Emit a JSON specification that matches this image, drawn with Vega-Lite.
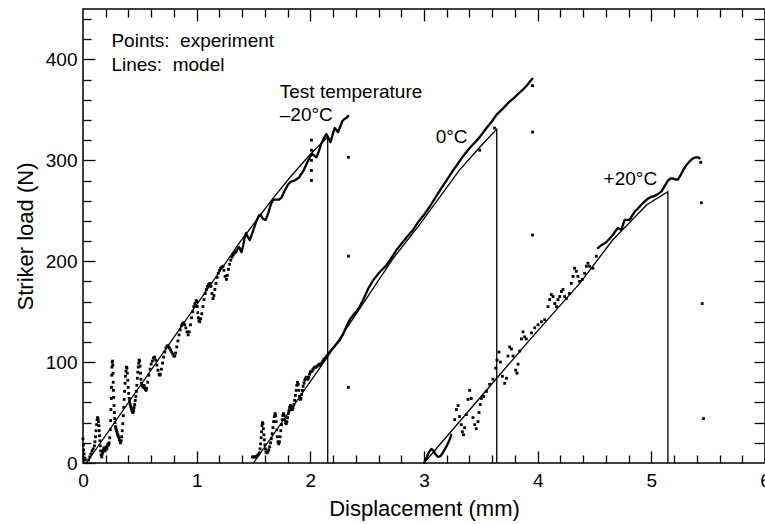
{
  "$schema": "https://vega.github.io/schema/vega-lite/v6.json",
  "width": 682,
  "height": 454,
  "autosize": {"type": "none"},
  "padding": {"left": 83, "top": 9, "right": 0, "bottom": 61},
  "background": "white",
  "config": {
    "view": {"stroke": "black", "strokeWidth": 1.5},
    "font": "Liberation Sans",
    "axis": {
      "domain": false,
      "grid": false,
      "tickColor": "black",
      "tickWidth": 1.3,
      "labelColor": "black",
      "labelFont": "Liberation Sans",
      "labelFontSize": 19,
      "labelFlush": false,
      "labelOverlap": false,
      "labelBound": false,
      "titleFont": "Liberation Sans",
      "titleFontSize": 22,
      "titleFontWeight": "normal",
      "titleColor": "black"
    }
  },
  "datasets": {
    "model": [
      {"temp": "-20", "disp": 0.03, "load": 0},
      {"temp": "-20", "disp": 1.26, "load": 199},
      {"temp": "-20", "disp": 1.38, "load": 219},
      {"temp": "-20", "disp": 1.67, "load": 262},
      {"temp": "-20", "disp": 1.82, "load": 283},
      {"temp": "-20", "disp": 2.0, "load": 306},
      {"temp": "-20", "disp": 2.153, "load": 323},
      {"temp": "-20", "disp": 2.153, "load": 0},
      {"temp": "0", "disp": 1.5, "load": 0},
      {"temp": "0", "disp": 2.15, "load": 105},
      {"temp": "0", "disp": 2.73, "load": 203},
      {"temp": "0", "disp": 2.96, "load": 236},
      {"temp": "0", "disp": 3.31, "load": 290},
      {"temp": "0", "disp": 3.49, "load": 313},
      {"temp": "0", "disp": 3.64, "load": 331},
      {"temp": "0", "disp": 3.64, "load": 0},
      {"temp": "+20", "disp": 3.0, "load": 0},
      {"temp": "+20", "disp": 3.64, "load": 84},
      {"temp": "+20", "disp": 3.93, "load": 122},
      {"temp": "+20", "disp": 4.37, "load": 178},
      {"temp": "+20", "disp": 4.66, "load": 221},
      {"temp": "+20", "disp": 4.96, "load": 256},
      {"temp": "+20", "disp": 5.146, "load": 269},
      {"temp": "+20", "disp": 5.146, "load": 0}
    ],
    "curves": [
      {"seg": "-20", "disp": 1.36, "load": 212}, {"seg": "-20", "disp": 1.375, "load": 214}, {"seg": "-20", "disp": 1.385, "load": 211},
      {"seg": "-20", "disp": 1.395, "load": 209}, {"seg": "-20", "disp": 1.41, "load": 216}, {"seg": "-20", "disp": 1.425, "load": 225},
      {"seg": "-20", "disp": 1.435, "load": 228}, {"seg": "-20", "disp": 1.45, "load": 224}, {"seg": "-20", "disp": 1.467, "load": 221},
      {"seg": "-20", "disp": 1.49, "load": 228}, {"seg": "-20", "disp": 1.52, "load": 238}, {"seg": "-20", "disp": 1.545, "load": 245},
      {"seg": "-20", "disp": 1.56, "load": 246}, {"seg": "-20", "disp": 1.585, "load": 242}, {"seg": "-20", "disp": 1.608, "load": 241},
      {"seg": "-20", "disp": 1.63, "load": 248}, {"seg": "-20", "disp": 1.655, "load": 257}, {"seg": "-20", "disp": 1.672, "load": 261},
      {"seg": "-20", "disp": 1.7, "load": 261}, {"seg": "-20", "disp": 1.725, "load": 261}, {"seg": "-20", "disp": 1.746, "load": 263},
      {"seg": "-20", "disp": 1.775, "load": 270}, {"seg": "-20", "disp": 1.804, "load": 276}, {"seg": "-20", "disp": 1.83, "load": 279},
      {"seg": "-20", "disp": 1.863, "load": 280}, {"seg": "-20", "disp": 1.9, "load": 283}, {"seg": "-20", "disp": 1.936, "load": 289},
      {"seg": "-20", "disp": 1.97, "load": 297}, {"seg": "-20", "disp": 2.0, "load": 304}, {"seg": "-20", "disp": 2.02, "load": 306},
      {"seg": "-20", "disp": 2.054, "load": 303}, {"seg": "-20", "disp": 2.075, "load": 309}, {"seg": "-20", "disp": 2.098, "load": 317},
      {"seg": "-20", "disp": 2.12, "load": 322}, {"seg": "-20", "disp": 2.141, "load": 326}, {"seg": "-20", "disp": 2.16, "load": 322},
      {"seg": "-20", "disp": 2.177, "load": 318}, {"seg": "-20", "disp": 2.195, "load": 325}, {"seg": "-20", "disp": 2.214, "load": 332},
      {"seg": "-20", "disp": 2.23, "load": 330}, {"seg": "-20", "disp": 2.244, "load": 328}, {"seg": "-20", "disp": 2.265, "load": 334},
      {"seg": "-20", "disp": 2.282, "load": 339}, {"seg": "-20", "disp": 2.3, "load": 341}, {"seg": "-20", "disp": 2.317, "load": 342},
      {"seg": "-20", "disp": 2.332, "load": 344},
      {"seg": "0", "disp": 2.13, "load": 104}, {"seg": "0", "disp": 2.141, "load": 106}, {"seg": "0", "disp": 2.17, "load": 110},
      {"seg": "0", "disp": 2.2, "load": 114}, {"seg": "0", "disp": 2.23, "load": 118}, {"seg": "0", "disp": 2.259, "load": 122},
      {"seg": "0", "disp": 2.29, "load": 128}, {"seg": "0", "disp": 2.32, "load": 136}, {"seg": "0", "disp": 2.347, "load": 142},
      {"seg": "0", "disp": 2.38, "load": 147}, {"seg": "0", "disp": 2.41, "load": 151}, {"seg": "0", "disp": 2.435, "load": 155},
      {"seg": "0", "disp": 2.47, "load": 163}, {"seg": "0", "disp": 2.51, "load": 173}, {"seg": "0", "disp": 2.552, "load": 181},
      {"seg": "0", "disp": 2.6, "load": 188}, {"seg": "0", "disp": 2.635, "load": 192}, {"seg": "0", "disp": 2.669, "load": 196},
      {"seg": "0", "disp": 2.7, "load": 201}, {"seg": "0", "disp": 2.73, "load": 206}, {"seg": "0", "disp": 2.757, "load": 211},
      {"seg": "0", "disp": 2.8, "load": 217}, {"seg": "0", "disp": 2.85, "load": 224}, {"seg": "0", "disp": 2.903, "load": 231},
      {"seg": "0", "disp": 2.95, "load": 239}, {"seg": "0", "disp": 3.0, "load": 246}, {"seg": "0", "disp": 3.05, "load": 254},
      {"seg": "0", "disp": 3.1, "load": 263}, {"seg": "0", "disp": 3.15, "load": 272}, {"seg": "0", "disp": 3.197, "load": 280},
      {"seg": "0", "disp": 3.25, "load": 289}, {"seg": "0", "disp": 3.3, "load": 297}, {"seg": "0", "disp": 3.343, "load": 304},
      {"seg": "0", "disp": 3.4, "load": 312}, {"seg": "0", "disp": 3.45, "load": 318}, {"seg": "0", "disp": 3.49, "load": 323},
      {"seg": "0", "disp": 3.55, "load": 332}, {"seg": "0", "disp": 3.6, "load": 339}, {"seg": "0", "disp": 3.637, "load": 345},
      {"seg": "0", "disp": 3.7, "load": 352}, {"seg": "0", "disp": 3.75, "load": 358}, {"seg": "0", "disp": 3.783, "load": 361},
      {"seg": "0", "disp": 3.83, "load": 366}, {"seg": "0", "disp": 3.87, "load": 370}, {"seg": "0", "disp": 3.91, "load": 375},
      {"seg": "0", "disp": 3.953, "load": 381},
      {"seg": "+20 start", "disp": 3.0, "load": 0}, {"seg": "+20 start", "disp": 3.02, "load": 5}, {"seg": "+20 start", "disp": 3.045, "load": 11},
      {"seg": "+20 start", "disp": 3.065, "load": 14}, {"seg": "+20 start", "disp": 3.085, "load": 12}, {"seg": "+20 start", "disp": 3.105, "load": 8},
      {"seg": "+20 start", "disp": 3.125, "load": 6}, {"seg": "+20 start", "disp": 3.145, "load": 7}, {"seg": "+20 start", "disp": 3.165, "load": 10},
      {"seg": "+20 start", "disp": 3.185, "load": 14}, {"seg": "+20 start", "disp": 3.205, "load": 18}, {"seg": "+20 start", "disp": 3.225, "load": 23},
      {"seg": "+20 start", "disp": 3.24, "load": 28},
      {"seg": "+20", "disp": 4.53, "load": 213}, {"seg": "+20", "disp": 4.56, "load": 216}, {"seg": "+20", "disp": 4.58, "load": 217},
      {"seg": "+20", "disp": 4.604, "load": 219}, {"seg": "+20", "disp": 4.63, "load": 222}, {"seg": "+20", "disp": 4.662, "load": 226},
      {"seg": "+20", "disp": 4.685, "load": 230}, {"seg": "+20", "disp": 4.706, "load": 233}, {"seg": "+20", "disp": 4.72, "load": 232},
      {"seg": "+20", "disp": 4.736, "load": 231}, {"seg": "+20", "disp": 4.75, "load": 236}, {"seg": "+20", "disp": 4.765, "load": 241},
      {"seg": "+20", "disp": 4.785, "load": 241}, {"seg": "+20", "disp": 4.809, "load": 241}, {"seg": "+20", "disp": 4.83, "load": 245},
      {"seg": "+20", "disp": 4.853, "load": 249}, {"seg": "+20", "disp": 4.88, "load": 252}, {"seg": "+20", "disp": 4.912, "load": 256},
      {"seg": "+20", "disp": 4.94, "load": 259}, {"seg": "+20", "disp": 4.97, "load": 262}, {"seg": "+20", "disp": 5.0, "load": 264},
      {"seg": "+20", "disp": 5.014, "load": 264}, {"seg": "+20", "disp": 5.05, "load": 266}, {"seg": "+20", "disp": 5.088, "load": 269},
      {"seg": "+20", "disp": 5.12, "load": 275}, {"seg": "+20", "disp": 5.146, "load": 280}, {"seg": "+20", "disp": 5.17, "load": 282},
      {"seg": "+20", "disp": 5.19, "load": 282}, {"seg": "+20", "disp": 5.21, "load": 281}, {"seg": "+20", "disp": 5.234, "load": 281},
      {"seg": "+20", "disp": 5.256, "load": 285}, {"seg": "+20", "disp": 5.278, "load": 290}, {"seg": "+20", "disp": 5.3, "load": 294},
      {"seg": "+20", "disp": 5.322, "load": 297}, {"seg": "+20", "disp": 5.345, "load": 300}, {"seg": "+20", "disp": 5.366, "load": 302},
      {"seg": "+20", "disp": 5.39, "load": 303}, {"seg": "+20", "disp": 5.41, "load": 303}, {"seg": "+20", "disp": 5.425, "load": 302}
    ],
    "dots": [
      {"temp": "-20", "disp": 0, "load": 24}, {"temp": "-20", "disp": 0.003, "load": 18}, {"temp": "-20", "disp": 0.006, "load": 13},
      {"temp": "-20", "disp": 0.01, "load": 9}, {"temp": "-20", "disp": 0.015, "load": 5}, {"temp": "-20", "disp": 0.02, "load": 3},
      {"temp": "-20", "disp": 0.05, "load": 3}, {"temp": "-20", "disp": 0.06, "load": 6}, {"temp": "-20", "disp": 0.07, "load": 9},
      {"temp": "-20", "disp": 0.08, "load": 12}, {"temp": "-20", "disp": 0.09, "load": 14}, {"temp": "-20", "disp": 0.1, "load": 17},
      {"temp": "-20", "disp": 0.105, "load": 21}, {"temp": "-20", "disp": 0.11, "load": 26}, {"temp": "-20", "disp": 0.115, "load": 32},
      {"temp": "-20", "disp": 0.12, "load": 38}, {"temp": "-20", "disp": 0.124, "load": 43}, {"temp": "-20", "disp": 0.128, "load": 45},
      {"temp": "-20", "disp": 0.132, "load": 44}, {"temp": "-20", "disp": 0.136, "load": 41}, {"temp": "-20", "disp": 0.14, "load": 37},
      {"temp": "-20", "disp": 0.143, "load": 32}, {"temp": "-20", "disp": 0.146, "load": 27}, {"temp": "-20", "disp": 0.149, "load": 22},
      {"temp": "-20", "disp": 0.152, "load": 17}, {"temp": "-20", "disp": 0.156, "load": 12}, {"temp": "-20", "disp": 0.16, "load": 8},
      {"temp": "-20", "disp": 0.165, "load": 6}, {"temp": "-20", "disp": 0.17, "load": 9}, {"temp": "-20", "disp": 0.175, "load": 11},
      {"temp": "-20", "disp": 0.18, "load": 13}, {"temp": "-20", "disp": 0.185, "load": 15}, {"temp": "-20", "disp": 0.19, "load": 13},
      {"temp": "-20", "disp": 0.195, "load": 12}, {"temp": "-20", "disp": 0.2, "load": 14}, {"temp": "-20", "disp": 0.205, "load": 16},
      {"temp": "-20", "disp": 0.21, "load": 14}, {"temp": "-20", "disp": 0.215, "load": 17}, {"temp": "-20", "disp": 0.22, "load": 19},
      {"temp": "-20", "disp": 0.225, "load": 18}, {"temp": "-20", "disp": 0.23, "load": 20}, {"temp": "-20", "disp": 0.235, "load": 25},
      {"temp": "-20", "disp": 0.24, "load": 33}, {"temp": "-20", "disp": 0.243, "load": 42}, {"temp": "-20", "disp": 0.246, "load": 53},
      {"temp": "-20", "disp": 0.249, "load": 64}, {"temp": "-20", "disp": 0.251, "load": 75}, {"temp": "-20", "disp": 0.253, "load": 87},
      {"temp": "-20", "disp": 0.255, "load": 95}, {"temp": "-20", "disp": 0.257, "load": 100}, {"temp": "-20", "disp": 0.26, "load": 101},
      {"temp": "-20", "disp": 0.262, "load": 97}, {"temp": "-20", "disp": 0.264, "load": 89}, {"temp": "-20", "disp": 0.266, "load": 80},
      {"temp": "-20", "disp": 0.268, "load": 72}, {"temp": "-20", "disp": 0.27, "load": 65}, {"temp": "-20", "disp": 0.273, "load": 57},
      {"temp": "-20", "disp": 0.276, "load": 50}, {"temp": "-20", "disp": 0.279, "load": 44}, {"temp": "-20", "disp": 0.282, "load": 40},
      {"temp": "-20", "disp": 0.286, "load": 36}, {"temp": "-20", "disp": 0.29, "load": 34}, {"temp": "-20", "disp": 0.295, "load": 32},
      {"temp": "-20", "disp": 0.3, "load": 30}, {"temp": "-20", "disp": 0.305, "load": 28}, {"temp": "-20", "disp": 0.31, "load": 27},
      {"temp": "-20", "disp": 0.315, "load": 25}, {"temp": "-20", "disp": 0.32, "load": 23}, {"temp": "-20", "disp": 0.325, "load": 22},
      {"temp": "-20", "disp": 0.33, "load": 20}, {"temp": "-20", "disp": 0.335, "load": 22}, {"temp": "-20", "disp": 0.34, "load": 26},
      {"temp": "-20", "disp": 0.345, "load": 32}, {"temp": "-20", "disp": 0.35, "load": 39}, {"temp": "-20", "disp": 0.354, "load": 47},
      {"temp": "-20", "disp": 0.358, "load": 55}, {"temp": "-20", "disp": 0.362, "load": 63}, {"temp": "-20", "disp": 0.366, "load": 71},
      {"temp": "-20", "disp": 0.37, "load": 79}, {"temp": "-20", "disp": 0.374, "load": 86}, {"temp": "-20", "disp": 0.378, "load": 91},
      {"temp": "-20", "disp": 0.382, "load": 95}, {"temp": "-20", "disp": 0.386, "load": 94}, {"temp": "-20", "disp": 0.39, "load": 89},
      {"temp": "-20", "disp": 0.394, "load": 82}, {"temp": "-20", "disp": 0.398, "load": 75}, {"temp": "-20", "disp": 0.402, "load": 69},
      {"temp": "-20", "disp": 0.406, "load": 64}, {"temp": "-20", "disp": 0.41, "load": 61}, {"temp": "-20", "disp": 0.415, "load": 58},
      {"temp": "-20", "disp": 0.42, "load": 56}, {"temp": "-20", "disp": 0.425, "load": 54}, {"temp": "-20", "disp": 0.43, "load": 52},
      {"temp": "-20", "disp": 0.435, "load": 51}, {"temp": "-20", "disp": 0.44, "load": 50}, {"temp": "-20", "disp": 0.445, "load": 52},
      {"temp": "-20", "disp": 0.45, "load": 55}, {"temp": "-20", "disp": 0.455, "load": 58}, {"temp": "-20", "disp": 0.46, "load": 62},
      {"temp": "-20", "disp": 0.465, "load": 66}, {"temp": "-20", "disp": 0.47, "load": 71}, {"temp": "-20", "disp": 0.474, "load": 77},
      {"temp": "-20", "disp": 0.478, "load": 84}, {"temp": "-20", "disp": 0.482, "load": 90}, {"temp": "-20", "disp": 0.486, "load": 95},
      {"temp": "-20", "disp": 0.49, "load": 99}, {"temp": "-20", "disp": 0.494, "load": 102}, {"temp": "-20", "disp": 0.498, "load": 101},
      {"temp": "-20", "disp": 0.502, "load": 96}, {"temp": "-20", "disp": 0.506, "load": 89}, {"temp": "-20", "disp": 0.51, "load": 83},
      {"temp": "-20", "disp": 0.515, "load": 79}, {"temp": "-20", "disp": 0.52, "load": 77}, {"temp": "-20", "disp": 0.525, "load": 76},
      {"temp": "-20", "disp": 0.53, "load": 75}, {"temp": "-20", "disp": 0.535, "load": 77}, {"temp": "-20", "disp": 0.54, "load": 76},
      {"temp": "-20", "disp": 0.545, "load": 74}, {"temp": "-20", "disp": 0.55, "load": 73}, {"temp": "-20", "disp": 0.555, "load": 72},
      {"temp": "-20", "disp": 0.56, "load": 74}, {"temp": "-20", "disp": 0.57, "load": 80}, {"temp": "-20", "disp": 0.58, "load": 87},
      {"temp": "-20", "disp": 0.59, "load": 93}, {"temp": "-20", "disp": 0.6, "load": 98}, {"temp": "-20", "disp": 0.61, "load": 101},
      {"temp": "-20", "disp": 0.62, "load": 104}, {"temp": "-20", "disp": 0.63, "load": 105}, {"temp": "-20", "disp": 0.64, "load": 102},
      {"temp": "-20", "disp": 0.65, "load": 97}, {"temp": "-20", "disp": 0.66, "load": 92}, {"temp": "-20", "disp": 0.67, "load": 88},
      {"temp": "-20", "disp": 0.675, "load": 87}, {"temp": "-20", "disp": 0.68, "load": 88}, {"temp": "-20", "disp": 0.69, "load": 93},
      {"temp": "-20", "disp": 0.7, "load": 99}, {"temp": "-20", "disp": 0.71, "load": 105}, {"temp": "-20", "disp": 0.72, "load": 110},
      {"temp": "-20", "disp": 0.73, "load": 114}, {"temp": "-20", "disp": 0.74, "load": 116}, {"temp": "-20", "disp": 0.75, "load": 116},
      {"temp": "-20", "disp": 0.76, "load": 114}, {"temp": "-20", "disp": 0.77, "load": 112}, {"temp": "-20", "disp": 0.78, "load": 110},
      {"temp": "-20", "disp": 0.79, "load": 108}, {"temp": "-20", "disp": 0.8, "load": 106}, {"temp": "-20", "disp": 0.807, "load": 106},
      {"temp": "-20", "disp": 0.815, "load": 109}, {"temp": "-20", "disp": 0.825, "load": 115}, {"temp": "-20", "disp": 0.835, "load": 121},
      {"temp": "-20", "disp": 0.845, "load": 127}, {"temp": "-20", "disp": 0.855, "load": 132}, {"temp": "-20", "disp": 0.865, "load": 136},
      {"temp": "-20", "disp": 0.875, "load": 138}, {"temp": "-20", "disp": 0.885, "load": 139}, {"temp": "-20", "disp": 0.895, "load": 137},
      {"temp": "-20", "disp": 0.905, "load": 134}, {"temp": "-20", "disp": 0.915, "load": 130}, {"temp": "-20", "disp": 0.925, "load": 127},
      {"temp": "-20", "disp": 0.935, "load": 130}, {"temp": "-20", "disp": 0.945, "load": 137}, {"temp": "-20", "disp": 0.955, "load": 144},
      {"temp": "-20", "disp": 0.965, "load": 150}, {"temp": "-20", "disp": 0.975, "load": 155}, {"temp": "-20", "disp": 0.985, "load": 158},
      {"temp": "-20", "disp": 0.995, "load": 161}, {"temp": "-20", "disp": 1.0, "load": 160}, {"temp": "-20", "disp": 1.005, "load": 155},
      {"temp": "-20", "disp": 1.01, "load": 149}, {"temp": "-20", "disp": 1.015, "load": 144}, {"temp": "-20", "disp": 1.02, "load": 141},
      {"temp": "-20", "disp": 1.027, "load": 140}, {"temp": "-20", "disp": 1.035, "load": 143}, {"temp": "-20", "disp": 1.045, "load": 148},
      {"temp": "-20", "disp": 1.055, "load": 155}, {"temp": "-20", "disp": 1.065, "load": 162}, {"temp": "-20", "disp": 1.075, "load": 168},
      {"temp": "-20", "disp": 1.085, "load": 172}, {"temp": "-20", "disp": 1.095, "load": 175}, {"temp": "-20", "disp": 1.105, "load": 177},
      {"temp": "-20", "disp": 1.115, "load": 178}, {"temp": "-20", "disp": 1.125, "load": 175}, {"temp": "-20", "disp": 1.135, "load": 168},
      {"temp": "-20", "disp": 1.144, "load": 163}, {"temp": "-20", "disp": 1.152, "load": 166}, {"temp": "-20", "disp": 1.16, "load": 172},
      {"temp": "-20", "disp": 1.17, "load": 178}, {"temp": "-20", "disp": 1.18, "load": 184}, {"temp": "-20", "disp": 1.19, "load": 188},
      {"temp": "-20", "disp": 1.2, "load": 191}, {"temp": "-20", "disp": 1.21, "load": 193}, {"temp": "-20", "disp": 1.22, "load": 194},
      {"temp": "-20", "disp": 1.232, "load": 195}, {"temp": "-20", "disp": 1.24, "load": 191}, {"temp": "-20", "disp": 1.25, "load": 185},
      {"temp": "-20", "disp": 1.262, "load": 182}, {"temp": "-20", "disp": 1.27, "load": 186}, {"temp": "-20", "disp": 1.28, "load": 192},
      {"temp": "-20", "disp": 1.29, "load": 197}, {"temp": "-20", "disp": 1.3, "load": 201}, {"temp": "-20", "disp": 1.31, "load": 204},
      {"temp": "-20", "disp": 1.32, "load": 206}, {"temp": "-20", "disp": 1.33, "load": 208}, {"temp": "-20", "disp": 1.34, "load": 209},
      {"temp": "-20", "disp": 1.35, "load": 210},
      {"temp": "-20", "disp": 2.01, "load": 320}, {"temp": "-20", "disp": 2.01, "load": 310}, {"temp": "-20", "disp": 2.01, "load": 300},
      {"temp": "-20", "disp": 2.01, "load": 290}, {"temp": "-20", "disp": 2.01, "load": 280},
      {"temp": "-20", "disp": 2.335, "load": 303}, {"temp": "-20", "disp": 2.335, "load": 205}, {"temp": "-20", "disp": 2.335, "load": 75},
      {"temp": "0", "disp": 1.49, "load": 6}, {"temp": "0", "disp": 1.5, "load": 6}, {"temp": "0", "disp": 1.51, "load": 6},
      {"temp": "0", "disp": 1.52, "load": 6}, {"temp": "0", "disp": 1.53, "load": 7}, {"temp": "0", "disp": 1.54, "load": 8},
      {"temp": "0", "disp": 1.55, "load": 10}, {"temp": "0", "disp": 1.558, "load": 14}, {"temp": "0", "disp": 1.563, "load": 19},
      {"temp": "0", "disp": 1.567, "load": 25}, {"temp": "0", "disp": 1.571, "load": 31}, {"temp": "0", "disp": 1.575, "load": 37},
      {"temp": "0", "disp": 1.579, "load": 40}, {"temp": "0", "disp": 1.583, "load": 39}, {"temp": "0", "disp": 1.587, "load": 34},
      {"temp": "0", "disp": 1.591, "load": 28}, {"temp": "0", "disp": 1.595, "load": 23}, {"temp": "0", "disp": 1.6, "load": 18},
      {"temp": "0", "disp": 1.605, "load": 14}, {"temp": "0", "disp": 1.61, "load": 11}, {"temp": "0", "disp": 1.618, "load": 10},
      {"temp": "0", "disp": 1.626, "load": 11}, {"temp": "0", "disp": 1.634, "load": 13}, {"temp": "0", "disp": 1.642, "load": 16},
      {"temp": "0", "disp": 1.65, "load": 20}, {"temp": "0", "disp": 1.657, "load": 24}, {"temp": "0", "disp": 1.664, "load": 29},
      {"temp": "0", "disp": 1.671, "load": 35}, {"temp": "0", "disp": 1.677, "load": 41}, {"temp": "0", "disp": 1.683, "load": 46},
      {"temp": "0", "disp": 1.689, "load": 49}, {"temp": "0", "disp": 1.695, "load": 47}, {"temp": "0", "disp": 1.7, "load": 41},
      {"temp": "0", "disp": 1.705, "load": 33}, {"temp": "0", "disp": 1.71, "load": 26}, {"temp": "0", "disp": 1.716, "load": 21},
      {"temp": "0", "disp": 1.722, "load": 19}, {"temp": "0", "disp": 1.728, "load": 21}, {"temp": "0", "disp": 1.734, "load": 26},
      {"temp": "0", "disp": 1.74, "load": 32}, {"temp": "0", "disp": 1.746, "load": 38}, {"temp": "0", "disp": 1.752, "load": 43},
      {"temp": "0", "disp": 1.758, "load": 47}, {"temp": "0", "disp": 1.764, "load": 49}, {"temp": "0", "disp": 1.77, "load": 47},
      {"temp": "0", "disp": 1.776, "load": 43}, {"temp": "0", "disp": 1.782, "load": 40}, {"temp": "0", "disp": 1.788, "load": 39},
      {"temp": "0", "disp": 1.794, "load": 41}, {"temp": "0", "disp": 1.8, "load": 45}, {"temp": "0", "disp": 1.806, "load": 49},
      {"temp": "0", "disp": 1.812, "load": 52}, {"temp": "0", "disp": 1.818, "load": 55}, {"temp": "0", "disp": 1.824, "load": 57},
      {"temp": "0", "disp": 1.83, "load": 56}, {"temp": "0", "disp": 1.836, "load": 54}, {"temp": "0", "disp": 1.842, "load": 53},
      {"temp": "0", "disp": 1.848, "load": 55}, {"temp": "0", "disp": 1.855, "load": 58}, {"temp": "0", "disp": 1.862, "load": 62},
      {"temp": "0", "disp": 1.869, "load": 67}, {"temp": "0", "disp": 1.875, "load": 72}, {"temp": "0", "disp": 1.881, "load": 77},
      {"temp": "0", "disp": 1.887, "load": 80}, {"temp": "0", "disp": 1.893, "load": 78}, {"temp": "0", "disp": 1.899, "load": 72},
      {"temp": "0", "disp": 1.905, "load": 66}, {"temp": "0", "disp": 1.911, "load": 63}, {"temp": "0", "disp": 1.917, "load": 64},
      {"temp": "0", "disp": 1.923, "load": 68}, {"temp": "0", "disp": 1.93, "load": 72}, {"temp": "0", "disp": 1.937, "load": 76},
      {"temp": "0", "disp": 1.944, "load": 79}, {"temp": "0", "disp": 1.951, "load": 82}, {"temp": "0", "disp": 1.958, "load": 84},
      {"temp": "0", "disp": 1.965, "load": 85}, {"temp": "0", "disp": 1.972, "load": 84}, {"temp": "0", "disp": 1.979, "load": 83},
      {"temp": "0", "disp": 1.986, "load": 85}, {"temp": "0", "disp": 1.993, "load": 88}, {"temp": "0", "disp": 2.0, "load": 90},
      {"temp": "0", "disp": 2.008, "load": 91}, {"temp": "0", "disp": 2.016, "load": 91}, {"temp": "0", "disp": 2.024, "load": 93},
      {"temp": "0", "disp": 2.032, "load": 94}, {"temp": "0", "disp": 2.04, "load": 95}, {"temp": "0", "disp": 2.05, "load": 95},
      {"temp": "0", "disp": 2.06, "load": 96}, {"temp": "0", "disp": 2.07, "load": 97}, {"temp": "0", "disp": 2.08, "load": 98},
      {"temp": "0", "disp": 2.09, "load": 97}, {"temp": "0", "disp": 2.1, "load": 99}, {"temp": "0", "disp": 2.11, "load": 101},
      {"temp": "0", "disp": 2.12, "load": 103},
      {"temp": "0", "disp": 3.49, "load": 310}, {"temp": "0", "disp": 3.62, "load": 332},
      {"temp": "0", "disp": 3.955, "load": 374}, {"temp": "0", "disp": 3.955, "load": 328}, {"temp": "0", "disp": 3.955, "load": 226},
      {"temp": "+20", "disp": 3.27, "load": 43}, {"temp": "+20", "disp": 3.285, "load": 53}, {"temp": "+20", "disp": 3.3, "load": 57},
      {"temp": "+20", "disp": 3.313, "load": 46}, {"temp": "+20", "disp": 3.328, "load": 38}, {"temp": "+20", "disp": 3.337, "load": 31},
      {"temp": "+20", "disp": 3.348, "load": 28}, {"temp": "+20", "disp": 3.357, "load": 35}, {"temp": "+20", "disp": 3.372, "load": 48},
      {"temp": "+20", "disp": 3.387, "load": 63}, {"temp": "+20", "disp": 3.402, "load": 72}, {"temp": "+20", "disp": 3.416, "load": 64},
      {"temp": "+20", "disp": 3.431, "load": 45}, {"temp": "+20", "disp": 3.446, "load": 38}, {"temp": "+20", "disp": 3.46, "load": 34},
      {"temp": "+20", "disp": 3.475, "load": 41}, {"temp": "+20", "disp": 3.484, "load": 50}, {"temp": "+20", "disp": 3.495, "load": 58},
      {"temp": "+20", "disp": 3.505, "load": 64}, {"temp": "+20", "disp": 3.525, "load": 66}, {"temp": "+20", "disp": 3.549, "load": 71},
      {"temp": "+20", "disp": 3.578, "load": 78}, {"temp": "+20", "disp": 3.607, "load": 83}, {"temp": "+20", "disp": 3.631, "load": 94},
      {"temp": "+20", "disp": 3.642, "load": 102}, {"temp": "+20", "disp": 3.66, "load": 110}, {"temp": "+20", "disp": 3.672, "load": 100},
      {"temp": "+20", "disp": 3.69, "load": 86}, {"temp": "+20", "disp": 3.71, "load": 79}, {"temp": "+20", "disp": 3.725, "load": 84},
      {"temp": "+20", "disp": 3.739, "load": 106}, {"temp": "+20", "disp": 3.754, "load": 115}, {"temp": "+20", "disp": 3.769, "load": 113},
      {"temp": "+20", "disp": 3.783, "load": 106}, {"temp": "+20", "disp": 3.807, "load": 92}, {"temp": "+20", "disp": 3.818, "load": 89},
      {"temp": "+20", "disp": 3.827, "load": 98}, {"temp": "+20", "disp": 3.842, "load": 111}, {"temp": "+20", "disp": 3.857, "load": 123},
      {"temp": "+20", "disp": 3.871, "load": 130}, {"temp": "+20", "disp": 3.885, "load": 125}, {"temp": "+20", "disp": 3.9, "load": 123},
      {"temp": "+20", "disp": 3.945, "load": 129}, {"temp": "+20", "disp": 3.974, "load": 134}, {"temp": "+20", "disp": 4.003, "load": 137},
      {"temp": "+20", "disp": 4.033, "load": 140}, {"temp": "+20", "disp": 4.062, "load": 142}, {"temp": "+20", "disp": 4.091, "load": 155},
      {"temp": "+20", "disp": 4.106, "load": 162}, {"temp": "+20", "disp": 4.12, "load": 167}, {"temp": "+20", "disp": 4.135, "load": 165},
      {"temp": "+20", "disp": 4.15, "load": 158}, {"temp": "+20", "disp": 4.165, "load": 155}, {"temp": "+20", "disp": 4.179, "load": 162},
      {"temp": "+20", "disp": 4.194, "load": 165}, {"temp": "+20", "disp": 4.209, "load": 170}, {"temp": "+20", "disp": 4.223, "load": 172},
      {"temp": "+20", "disp": 4.237, "load": 165}, {"temp": "+20", "disp": 4.252, "load": 163}, {"temp": "+20", "disp": 4.281, "load": 168},
      {"temp": "+20", "disp": 4.296, "load": 178}, {"temp": "+20", "disp": 4.311, "load": 185}, {"temp": "+20", "disp": 4.325, "load": 193},
      {"temp": "+20", "disp": 4.34, "load": 190}, {"temp": "+20", "disp": 4.354, "load": 185}, {"temp": "+20", "disp": 4.369, "load": 180},
      {"temp": "+20", "disp": 4.393, "load": 182}, {"temp": "+20", "disp": 4.413, "load": 188}, {"temp": "+20", "disp": 4.428, "load": 195},
      {"temp": "+20", "disp": 4.442, "load": 198}, {"temp": "+20", "disp": 4.457, "load": 195}, {"temp": "+20", "disp": 4.486, "load": 193},
      {"temp": "+20", "disp": 4.516, "load": 205},
      {"temp": "+20", "disp": 5.435, "load": 298}, {"temp": "+20", "disp": 5.44, "load": 258}, {"temp": "+20", "disp": 5.448, "load": 158},
      {"temp": "+20", "disp": 5.46, "load": 44}
    ],
    "notes": [
      {"label": "Points:\u00a0 experiment", "disp": 0.25, "load": 412.5},
      {"label": "Lines:\u00a0 model", "disp": 0.25, "load": 388.7},
      {"label": "Test temperature", "disp": 1.731, "load": 362},
      {"label": "\u201320°C", "disp": 1.731, "load": 339},
      {"label": "0°C", "disp": 3.103, "load": 316.8},
      {"label": "+20°C", "disp": 4.58, "load": 275.5}
    ]
  },
  "layer": [
    {
      "data": {"name": "dots"},
      "mark": {"type": "point", "shape": "square", "filled": true, "size": 8, "color": "black", "opacity": 1},
      "encoding": {
        "x": {
          "field": "disp", "type": "quantitative",
          "scale": {"domain": [0, 6], "nice": false, "zero": false},
          "axis": {"orient": "bottom", "values": [0, 1, 2, 3, 4, 5, 6], "tickSize": -12, "labelPadding": 20,
                   "title": "Displacement (mm)", "titleX": 341, "titleY": 52, "titleBaseline": "alphabetic"}
        },
        "y": {
          "field": "load", "type": "quantitative",
          "scale": {"domain": [0, 450], "nice": false, "zero": false},
          "axis": {"orient": "left", "values": [0, 100, 200, 300, 400], "tickSize": -12, "labelPadding": 18,
                   "title": "Striker load (N)", "titleX": -51, "titleY": 227, "titleAngle": -90, "titleBaseline": "alphabetic", "titleAlign": "center"}
        }
      }
    },
    {
      "data": {"name": "curves"},
      "mark": {"type": "line", "color": "black", "strokeWidth": 2.3, "strokeJoin": "round", "strokeCap": "round"},
      "encoding": {
        "x": {
          "field": "disp", "type": "quantitative",
          "scale": {"domain": [0, 6], "nice": false, "zero": false},
          "axis": {"orient": "bottom", "values": [0.2, 0.4, 0.6, 0.8, 1.2, 1.4, 1.6, 1.8, 2.2, 2.4, 2.6, 2.8, 3.2, 3.4, 3.6, 3.8, 4.2, 4.4, 4.6, 4.8, 5.2, 5.4, 5.6, 5.8],
                   "tickSize": -8, "labels": false, "title": null}
        },
        "y": {
          "field": "load", "type": "quantitative",
          "scale": {"domain": [0, 450], "nice": false, "zero": false},
          "axis": {"orient": "left", "values": [20, 40, 60, 80, 120, 140, 160, 180, 220, 240, 260, 280, 320, 340, 360, 380, 420, 440],
                   "tickSize": -8, "labels": false, "title": null}
        },
        "detail": {"field": "seg"}
      }
    },
    {
      "data": {"name": "model"},
      "mark": {"type": "line", "color": "black", "strokeWidth": 1.3},
      "encoding": {
        "x": {
          "field": "disp", "type": "quantitative",
          "scale": {"domain": [0, 6], "nice": false, "zero": false},
          "axis": {"orient": "top", "values": [1, 2, 3, 4, 5], "tickSize": -12, "labels": false, "title": null}
        },
        "y": {
          "field": "load", "type": "quantitative",
          "scale": {"domain": [0, 450], "nice": false, "zero": false},
          "axis": {"orient": "right", "values": [20, 40, 60, 80, 100, 120, 140, 160, 180, 200, 220, 240, 260, 280, 300, 320, 340, 360, 380, 400, 420, 440],
                   "tickSize": -11, "labels": false, "title": null}
        },
        "detail": {"field": "temp"}
      }
    },
    {
      "data": {"name": "notes"},
      "mark": {"type": "text", "align": "left", "baseline": "alphabetic", "fontSize": 19, "font": "Liberation Sans", "color": "black"},
      "encoding": {
        "x": {
          "field": "disp", "type": "quantitative",
          "scale": {"domain": [0, 6], "nice": false, "zero": false},
          "axis": {"orient": "top", "values": [0.2, 0.4, 0.6, 0.8, 1.2, 1.4, 1.6, 1.8, 2.2, 2.4, 2.6, 2.8, 3.2, 3.4, 3.6, 3.8, 4.2, 4.4, 4.6, 4.8, 5.2, 5.4, 5.6, 5.8],
                   "tickSize": -8, "labels": false, "title": null}
        },
        "y": {"field": "load", "type": "quantitative", "scale": {"domain": [0, 450], "nice": false, "zero": false}, "axis": null},
        "text": {"field": "label"}
      }
    }
  ],
  "resolve": {"axis": {"x": "independent", "y": "independent"}}
}
